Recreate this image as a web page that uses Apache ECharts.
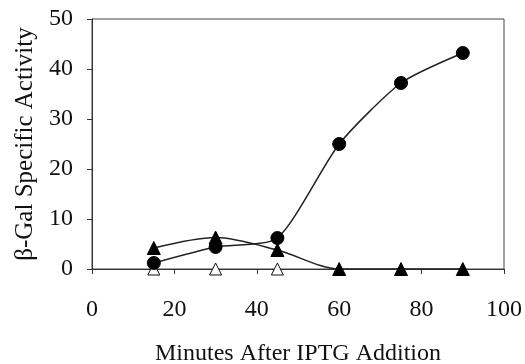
<!DOCTYPE html>
<html><head><meta charset="utf-8">
<script src="https://cdn.jsdelivr.net/npm/echarts@6/dist/echarts.min.js"></script>
<style>html,body{margin:0;padding:0;background:#fff}#c{width:525px;height:364px}</style>
</head><body><div id="c"></div>
<script>
const minutes = [15, 30, 45, 60, 75, 90];
const circleValues = [1.2, 4.4, 6.2, 25, 37.2, 43.2];
const filledTriangleValues = [4.2, 6.3, 3.8, 0, 0, 0];
const openTriangleMinutes = [15, 30, 45];
const openTriangleValues = [0, 0, 0];
const xTicks = [0, 20, 40, 60, 80, 100];
const yTicks = [0, 10, 20, 30, 40, 50];

const pair = (xs, ys) => xs.map((x, i) => [x, ys[i]]);
const font = 'Liberation Serif';
const chart = echarts.init(document.getElementById('c'), null, {renderer: 'canvas'});
chart.setOption({
  animation: false,
  backgroundColor: '#fff',
  grid: {left: 92, right: 21, top: 19, bottom: 95, show: true, borderColor: '#444', borderWidth: 1,
         containLabel: false, outerBoundsMode: 'none'},
  xAxis: {
    type: 'value', min: xTicks[0], max: xTicks[xTicks.length - 1], interval: 20,
    name: 'Minutes After IPTG Addition', nameLocation: 'middle', nameGap: 73,
    nameTextStyle: {fontFamily: font, fontSize: 24, color: '#111'},
    axisLine: {show: true, lineStyle: {color: '#333', width: 1}},
    axisTick: {show: true, inside: false, length: 5, lineStyle: {color: '#333'}},
    axisLabel: {fontFamily: font, fontSize: 24, color: '#111', margin: 29},
    splitLine: {show: false}
  },
  yAxis: {
    type: 'value', min: yTicks[0], max: yTicks[yTicks.length - 1], interval: 10,
    name: 'β-Gal Specific Activity', nameLocation: 'middle', nameGap: 48,
    nameTextStyle: {fontFamily: font, fontSize: 25, color: '#111'},
    axisLine: {show: true, lineStyle: {color: '#333', width: 1}},
    axisTick: {show: true, inside: false, length: 5, lineStyle: {color: '#333'}},
    axisLabel: {fontFamily: font, fontSize: 24, color: '#111', margin: 19},
    splitLine: {show: false}
  },
  series: [
    {
      type: 'line', data: pair(openTriangleMinutes, openTriangleValues),
      symbol: 'triangle', symbolSize: 12, lineStyle: {width: 0, opacity: 0},
      itemStyle: {color: '#fff', borderColor: '#111', borderWidth: 1}, z: 1
    },
    {
      type: 'line', data: pair(minutes, filledTriangleValues), smooth: 0.3,
      symbol: 'triangle', symbolSize: 13, showAllSymbol: true,
      lineStyle: {color: '#222', width: 1.5},
      itemStyle: {color: '#000', borderColor: '#000'}, z: 2
    },
    {
      type: 'line', data: pair(minutes, circleValues), smooth: 0.22,
      symbol: 'circle', symbolSize: 13, showAllSymbol: true,
      lineStyle: {color: '#222', width: 1.5},
      itemStyle: {color: '#000', borderColor: '#000'}, z: 3
    }
  ]
});
</script></body></html>
